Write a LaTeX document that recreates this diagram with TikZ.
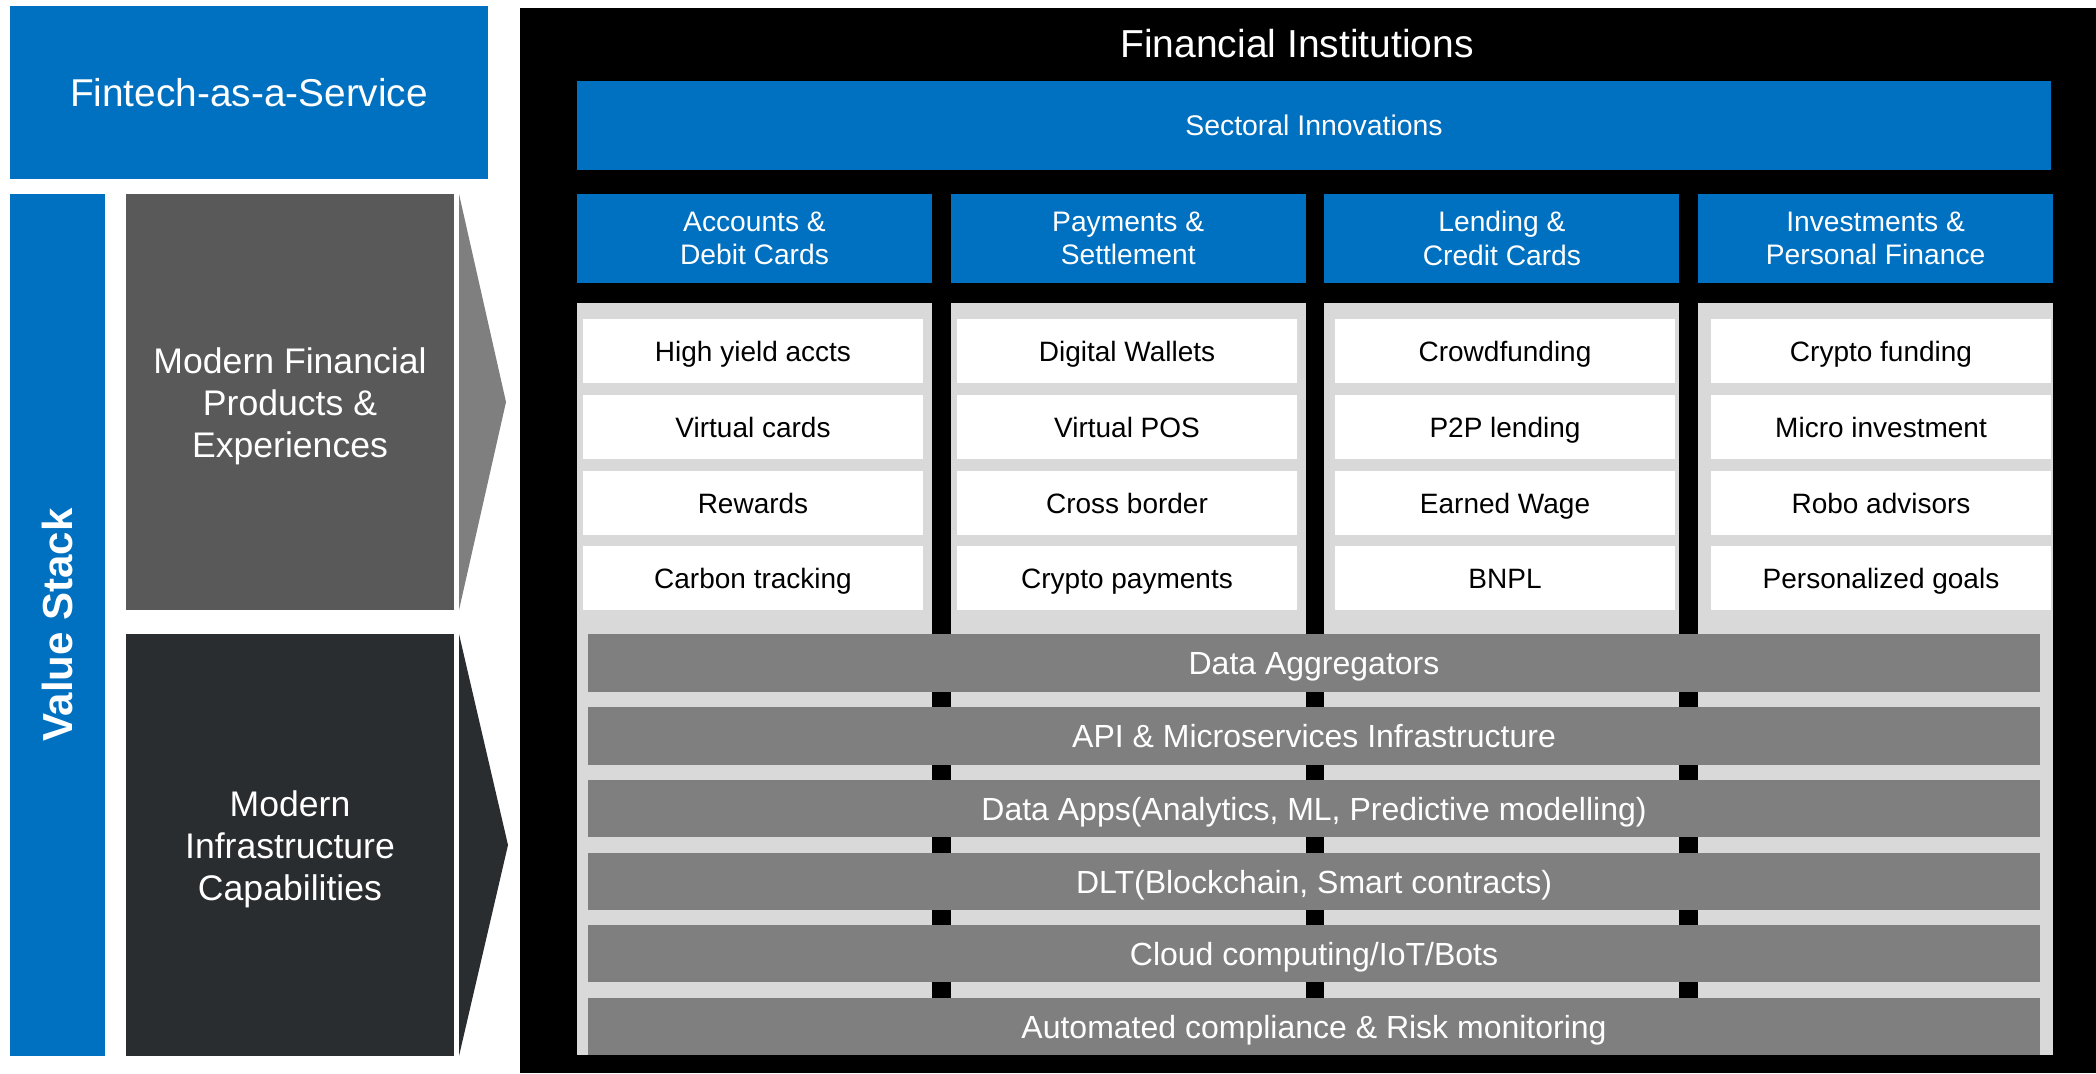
\documentclass[tikz,border=0pt]{standalone}
\usepackage{fontspec}
\setmainfont{Liberation Sans}
\usetikzlibrary{positioning}

\definecolor{fasblue}{HTML}{0070C0}
\definecolor{prodgray}{HTML}{595959}
\definecolor{infragray}{HTML}{2A2D30}
\definecolor{layergray}{HTML}{7F7F7F}
\definecolor{colgray}{HTML}{D9D9D9}

\tikzset{
  bluebox/.style={fill=fasblue, text=white, align=center},
  headbox/.style={bluebox, minimum width=177.5pt, minimum height=44.5pt,
    font=\fontsize{14.1}{16.7}\selectfont},
  colbox/.style={fill=colgray, minimum width=177.5pt, minimum height=376pt},
  itembox/.style={fill=white, text=black, minimum width=170pt, minimum height=32pt,
    text height=10pt, text depth=0pt, font=\fontsize{14}{16.8}\selectfont},
  layerbox/.style={fill=layergray, text=white, minimum width=726pt, minimum height=28.75pt,
    text height=11.5pt, text depth=0pt, font=\fontsize{16}{19.2}\selectfont},
  stackbox/.style={minimum width=164pt},
  stacktext/.style={text=white, align=center, font=\fontsize{17.8}{21}\selectfont}
}

\begin{document}
\begin{tikzpicture}[x=0.5pt, y=0.5pt, yscale=-1, inner sep=0pt, outer sep=0pt]
\useasboundingbox (0,0) rectangle (2096,1073);
\fill[white] (0,0) rectangle (2096,1073);

% left side
\node[bluebox, minimum width=239pt, minimum height=86.5pt, text height=14pt, text depth=0pt,
  font=\fontsize{19.4}{23}\selectfont] (fintech) at (249,92.5) {Fintech-as-a-Service};


\node[bluebox, rotate=90, minimum width=431pt, minimum height=47.5pt, font=\fontsize{21}{25}\selectfont\bfseries] (valuestack) at (57.5,625) {Value Stack};


\node[stackbox, fill=prodgray, minimum height=208pt] (products) at (290,402) {};
\node[stacktext] (productstext) at (290,406) {Modern Financial\\Products \&\\Experiences};

\path[fill=layergray] (459,194) -- (506,402) -- (459,610) -- cycle;


\node[stackbox, fill=infragray, minimum height=211pt] (infra) at (290,845) {};
\node[stacktext] (infratext) at (290,849) {Modern\\Infrastructure\\Capabilities};

\path[fill=infragray] (459,634) -- (508,845) -- (459,1056) -- cycle;


% right side
\path[fill=black] (520,8) rectangle (2096,1073);

\node[text=white, font=\fontsize{19.5}{23}\selectfont] (fininst) at (1297,44) {Financial Institutions};


\node[bluebox, minimum width=737pt, minimum height=44.5pt, text height=10.2pt, text depth=0pt,
  font=\fontsize{14.2}{17}\selectfont] (sectoral) at (1314,125.5) {Sectoral Innovations};


\node[headbox] (hacct) at (754.5,238.5) {Accounts \&\\Debit Cards};
\node[headbox] (hpay) at (1128.2,238.5) {Payments \&\\Settlement};
\node[headbox] (hlend) at (1501.9,238.5) {Lending \&\\Credit Cards};
\node[headbox] (hinv) at (1875.6,238.5) {Investments \&\\Personal Finance};


\node[colbox] (cacct) at (754.5,679) {};
\node[colbox] (cpay) at (1128.2,679) {};
\node[colbox] (clend) at (1501.9,679) {};
\node[colbox] (cinv) at (1875.6,679) {};


% accounts
\node[itembox] (acct1) at (753,351) {High yield accts};
\node[itembox] (acct2) at (753,427) {Virtual cards};
\node[itembox] (acct3) at (753,503) {Rewards};
\node[itembox] (acct4) at (753,578) {Carbon tracking};

% payments
\node[itembox] (pay1) at (1127,351) {Digital Wallets};
\node[itembox] (pay2) at (1127,427) {Virtual POS};
\node[itembox] (pay3) at (1127,503) {Cross border};
\node[itembox] (pay4) at (1127,578) {Crypto payments};

% lending
\node[itembox] (lend1) at (1505,351) {Crowdfunding};
\node[itembox] (lend2) at (1505,427) {P2P lending};
\node[itembox] (lend3) at (1505,503) {Earned Wage};
\node[itembox] (lend4) at (1505,578) {BNPL};

% investments
\node[itembox] (inv1) at (1881,351) {Crypto funding};
\node[itembox] (inv2) at (1881,427) {Micro investment};
\node[itembox] (inv3) at (1881,503) {Robo advisors};
\node[itembox] (inv4) at (1881,578) {Personalized goals};


% infrastructure layers
\node[layerbox] (layer1) at (1314,663) {Data Aggregators};
\node[layerbox] (layer2) at (1314,736) {API \& Microservices Infrastructure};
\node[layerbox] (layer3) at (1314,808.5) {Data Apps(Analytics, ML, Predictive modelling)};
\node[layerbox] (layer4) at (1314,881.5) {DLT(Blockchain, Smart contracts)};
\node[layerbox] (layer5) at (1314,953.5) {Cloud computing/IoT/Bots};
\node[layerbox] (layer6) at (1314,1026.5) {Automated compliance \& Risk monitoring};

\end{tikzpicture}
\end{document}
